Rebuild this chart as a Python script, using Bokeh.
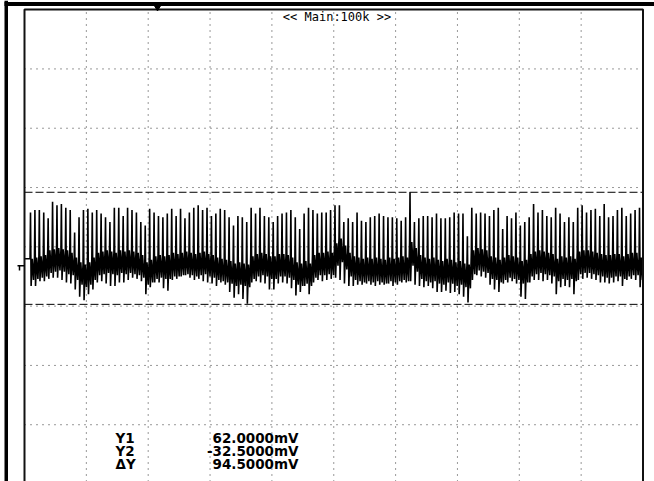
from bokeh.plotting import figure
from bokeh.models import Range1d
from bokeh.core.properties import value
from bokeh.embed import file_html
from bokeh.resources import INLINE

# ---------------- data ----------------
# peak of each ripple spike, mV
spike_tops_mv = [
    45, 47, 47, 45, 40, 54, 51, 52, 49, 47, 28, 41, 47, 48, 45, 47, 44, 41, 37, 49,
    49, 42, 49, 47, 45, 37, 34, 48, 45, 42, 41, 44, 48, 42,
    48, 40, 45, 49, 51, 47, 49, 42, 44, 48, 47, 41, 34, 42, 41, 37, 49, 44, 49, 42,
    41, 37, 42, 44, 45, 47, 41, 31, 44, 49, 47, 44, 45, 45, 47,
    51, 51, 37, 40, 37, 45, 38, 37, 41, 42, 44, 42, 41, 41, 40, 38, 41, 62, 37, 40,
    42, 42, 41, 44, 40, 40, 41, 45, 44, 44, 25, 49, 44, 45, 44,
    42, 47, 49, 31, 42, 40, 45, 34, 37, 41, 52, 45, 47, 42, 41, 49, 44, 37, 41, 37,
    49, 51, 45, 47, 48, 42, 52, 41, 42, 47, 49, 42, 44, 47, 49,
]
# trough right after each spike, mV
spike_lows_mv = [
    -17, -17, -13, -13, -11, -10, -10, -12, -14, -15, -20, -26, -29, -24, -20, -14, -13, -15, -17, -17,
    -14, -14, -12, -10, -11, -13, -24, -18, -14, -14, -19, -21, -12, -11,
    -9, -8, -10, -12, -11, -13, -14, -15, -17, -14, -16, -22, -27, -24, -28, -32, -14, -13, -14, -15,
    -20, -20, -15, -14, -15, -19, -25, -22, -17, -24, -14, -12, -13, -12, -11,
    -10, -12, -15, -17, -17, -16, -16, -15, -16, -17, -16, -16, -15, -17, -16, -14, -14, -13, -16, -17,
    -18, -17, -19, -22, -22, -21, -23, -22, -24, -26, -31, -12, -8, -9, -10,
    -16, -20, -22, -15, -14, -13, -15, -26, -28, -14, -12, -12, -13, -12, -15, -24, -18, -17, -18, -24,
    -12, -11, -10, -11, -12, -14, -14, -15, -14, -13, -17, -12, -11, -12, -18,
]
# upper edge of the noise band between spikes, mV
band_mids_mv = [
    6, 7, 8, 9, 13, 14, 15, 14, 13, 11, 7, 3, 1, 3, 7, 11, 12, 13, 12, 11,
    13, 12, 13, 12, 11, 9, 3, 5, 8, 9, 8, 9, 11, 10,
    11, 12, 11, 10, 11, 12, 10, 9, 7, 6, 5, 4, 2, 3, 2, 1, 8, 10, 11, 10,
    8, 8, 10, 10, 9, 7, 3, 2, 4, 2, 9, 11, 11, 12, 11,
    19, 23, 17, 11, 8, 7, 6, 7, 6, 7, 6, 5, 7, 6, 7, 8, 7, 20, 15, 9,
    7, 6, 7, 5, 4, 6, 5, 3, 4, 2, 1, 13, 15, 14, 13,
    8, 7, 5, 7, 9, 8, 7, 4, 5, 10, 12, 13, 12, 11, 10, 6, 8, 7, 8, 6,
    12, 13, 13, 12, 11, 10, 9, 9, 10, 10, 8, 10, 11, 11, 7,
]
# lower edge of the noise band between spikes, mV
band_dips_mv = [
    -12, -11, -10, -9, -6, -5, -4, -5, -7, -8, -12, -16, -18, -16, -12, -8, -7, -6, -7, -8,
    -6, -7, -6, -7, -8, -10, -16, -14, -11, -10, -11, -11, -9, -9,
    -8, -7, -8, -9, -8, -7, -9, -10, -12, -13, -14, -15, -17, -16, -17, -18, -11, -9, -8, -9,
    -11, -11, -9, -9, -10, -12, -16, -17, -15, -17, -10, -8, -8, -7, -8,
    0, 3, -3, -9, -12, -13, -14, -13, -14, -13, -14, -15, -13, -14, -13, -12, -13, 0, -5, -11,
    -13, -14, -13, -15, -16, -14, -15, -17, -16, -18, -19, -7, -4, -5, -6,
    -11, -12, -14, -12, -10, -11, -12, -15, -14, -9, -7, -6, -7, -8, -9, -13, -11, -12, -11, -13,
    -7, -6, -6, -7, -8, -9, -10, -10, -9, -9, -11, -9, -8, -8, -12,
]
first_spike_div = 0.097
spike_step_div = 0.07135

cursor_y1_mv = 62.0
cursor_y2_mv = -32.5
grid_x_div = [1, 2, 3, 4, 5, 6, 7, 8, 9]
grid_y_mv = [166, 116, 66, 16, -34, -84, -134]
screen_top_mv = 216
readout_names = ["Y1", "Y2", "ΔY"]
readout_values = ["62.0000mV", "-32.5000mV", "94.5000mV"]
timebase_label = "<< Main:100k >>"

# ---------------- geometry ----------------
W, H = 654, 481
X0_PX, PX_PER_DIV = 24.0, 61.85
Y0_PX, PX_PER_MV = 265.3, 1.186


def xd(px):
    return (px - X0_PX) / PX_PER_DIV


def ym(py):
    return (Y0_PX - py) / PX_PER_MV


p = figure(width=W, height=H, x_range=Range1d(xd(0), xd(W)), y_range=Range1d(ym(H), ym(0)),
           output_backend="svg", toolbar_location=None, min_border=0,
           x_axis_type=None, y_axis_type=None, outline_line_color=None,
           background_fill_color="white", border_fill_color="white")

bottom_mv = ym(H)

# dotted graticule
p.segment(x0=grid_x_div, x1=grid_x_div, y0=[bottom_mv] * len(grid_x_div),
          y1=[screen_top_mv] * len(grid_x_div), line_color="#333333", line_width=1, line_dash="1 5")
p.segment(x0=[0] * len(grid_y_mv), x1=[10] * len(grid_y_mv), y0=grid_y_mv, y1=grid_y_mv,
          line_color="#333333", line_width=1, line_dash="1 5")

# cursors
p.segment(x0=[0, 0], x1=[10, 10], y0=[cursor_y1_mv, cursor_y2_mv], y1=[cursor_y1_mv, cursor_y2_mv],
          line_color="black", line_width=1, line_dash="8 3")

# waveform
xs, ys = [0.0], [band_mids_mv[0]]
s = spike_step_div
for i in range(len(spike_tops_mv)):
    t = first_spike_div + i * s
    xs += [t - 0.1 * s, t, t + 0.14 * s, t + 0.4 * s, t + 0.68 * s]
    ys += [band_mids_mv[i], spike_tops_mv[i], spike_lows_mv[i], band_mids_mv[i], band_dips_mv[i]]
xs.append(10.0)
ys.append(band_mids_mv[-1])
p.line(xs, ys, line_color="black", line_width=1.6)

# screen frame
p.line([0, 0, 10, 10], [bottom_mv, screen_top_mv, screen_top_mv, bottom_mv],
       line_color="#111111", line_width=2)

# outer black bars
p.quad(left=[xd(4)], right=[xd(7.5)], bottom=[bottom_mv], top=[ym(0)], fill_color="black", line_color=None)
p.quad(left=[xd(4)], right=[xd(W)], bottom=[ym(5.5)], top=[ym(1.5)], fill_color="black", line_color=None)
p.scatter(x=[xd(157)], y=[ym(7)], marker="inverted_triangle", size=6, fill_color="black", line_color="black")

# ground marker
p.segment(x0=[xd(17)], x1=[xd(24)], y0=[0], y1=[0], line_color="black", line_width=1.5)
p.segment(x0=[xd(19)], x1=[xd(19)], y0=[0], y1=[ym(270)], line_color="black", line_width=1.5)

# texts
p.text(x=[xd(336.5)], y=[ym(16.5)], text=[timebase_label], text_align="center",
       text_baseline="alphabetic", text_font=value("DejaVu Sans Mono"), text_font_size="12px",
       text_color="black")
base_px = [437, 450, 463]
p.text(x=[xd(115)] * 3, y=[ym(b) for b in base_px], text=readout_names, text_align="left",
       text_baseline="alphabetic", text_font=value("DejaVu Sans"), text_font_size="13.5px",
       text_font_style="bold", text_color="black")
p.text(x=[xd(298)] * 3, y=[ym(b) for b in base_px], text=readout_values, text_align="right",
       text_baseline="alphabetic", text_font=value("DejaVu Sans"), text_font_size="13.5px",
       text_font_style="bold", text_color="black")

open("out.html", "w").write(file_html(p, INLINE))
